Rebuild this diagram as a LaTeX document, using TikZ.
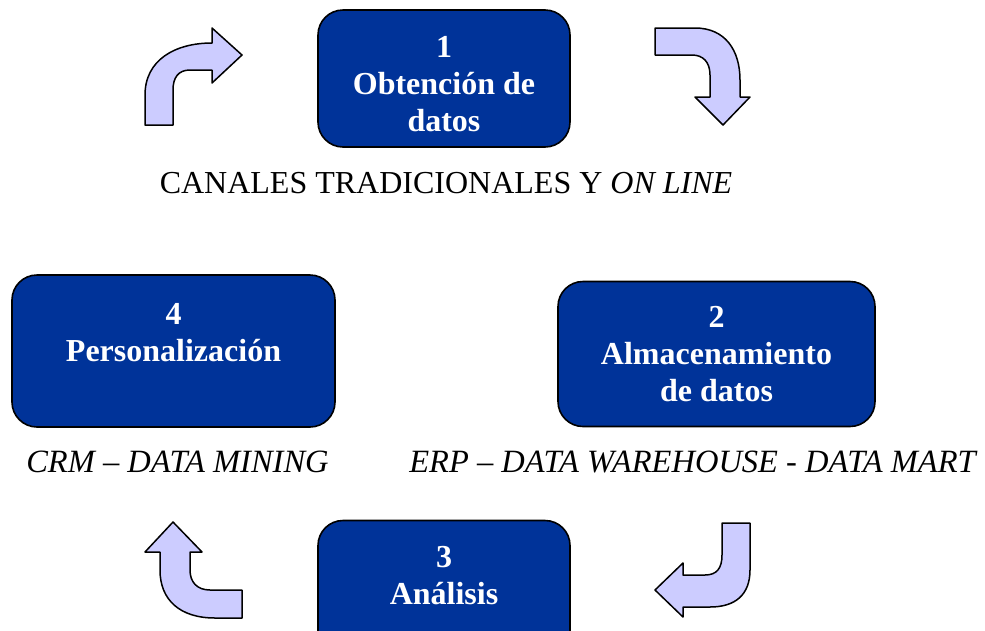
\documentclass[tikz,border=0pt]{standalone}
\usepackage{fontspec}
\setmainfont{Liberation Serif}
\definecolor{azulpaso}{HTML}{003399}
\definecolor{lila}{HTML}{CCCCFF}

\tikzset{
  paso/.style={draw=black,line width=1.6pt,fill=azulpaso,rounded corners=25pt,
    text=white,align=center,inner sep=0pt,font=\fontsize{32}{37}\selectfont\bfseries},
  giro/.style={draw=black,line width=1.5pt,fill=lila,line join=round},
  etiqueta/.style={anchor=base,inner sep=0pt,font=\fontsize{32}{36}\selectfont}
}

\begin{document}
\begin{tikzpicture}[x=1pt,y=-1pt]
\useasboundingbox (0,0) rectangle (985,630);
\clip (0,0) rectangle (985,630);
% los cuatro pasos
\node[paso,minimum width=252pt,minimum height=137pt] (obtencion) at (444,78.5){};
\node[paso,draw=none,fill=none] (obtencion-txt) at (444,84){1\\Obtención de\\datos};
\node[paso,minimum width=317pt,minimum height=145pt] (almacen) at (716.5,354){2\\Almacenamiento\\de datos};
\node[paso,minimum width=252pt,minimum height=147pt] (analisis) at (444,594){3\\Análisis\\~};
\node[paso,minimum width=323pt,minimum height=152pt] (personal) at (173.5,351){4\\Personalización\\~};
% textos
\node[etiqueta] (canales) at (446,193){CANALES TRADICIONALES Y \textit{ON LINE}};
\node[etiqueta,font=\fontsize{32.5}{36}\selectfont] (crm) at (177.5,472){\textit{CRM – DATA MINING}};
\node[etiqueta,font=\fontsize{32.5}{36}\selectfont] (erp) at (693.5,472){\textit{ERP – DATA WAREHOUSE - DATA MART}};
% flechas curvas
\draw[giro] (145,125) -- (145,95) .. controls (145,60) and (175,43) .. (212,43) -- (212,28) -- (242,55)
  -- (212,83) -- (212,70) -- (190,70) .. controls (178,70) and (173,78) .. (173,90) -- (173,125) -- cycle;
\draw[giro] (655,28) -- (695,28) .. controls (725,28) and (740,50) .. (740,80) -- (740,97) -- (750,97)
  -- (723,125) -- (695,97) -- (710,97) -- (710,75) .. controls (710,62) and (703,55) .. (692,55) -- (655,55) -- cycle;
\draw[giro] (722,523) -- (750,523) -- (750,570) .. controls (750,595) and (735,607) .. (710,607) -- (683,607)
  -- (683,617) -- (655,590) -- (683,563) -- (683,575) -- (705,575) .. controls (717,575) and (722,568) .. (722,555) -- cycle;
\draw[giro] (173,522) -- (202,552) -- (190,552) -- (190,570) .. controls (190,582) and (197,590) .. (210,590)
  -- (242,590) -- (242,618) -- (215,618) .. controls (180,618) and (160,600) .. (160,570) -- (160,552) -- (145,552) -- cycle;
\end{tikzpicture}
\end{document}
